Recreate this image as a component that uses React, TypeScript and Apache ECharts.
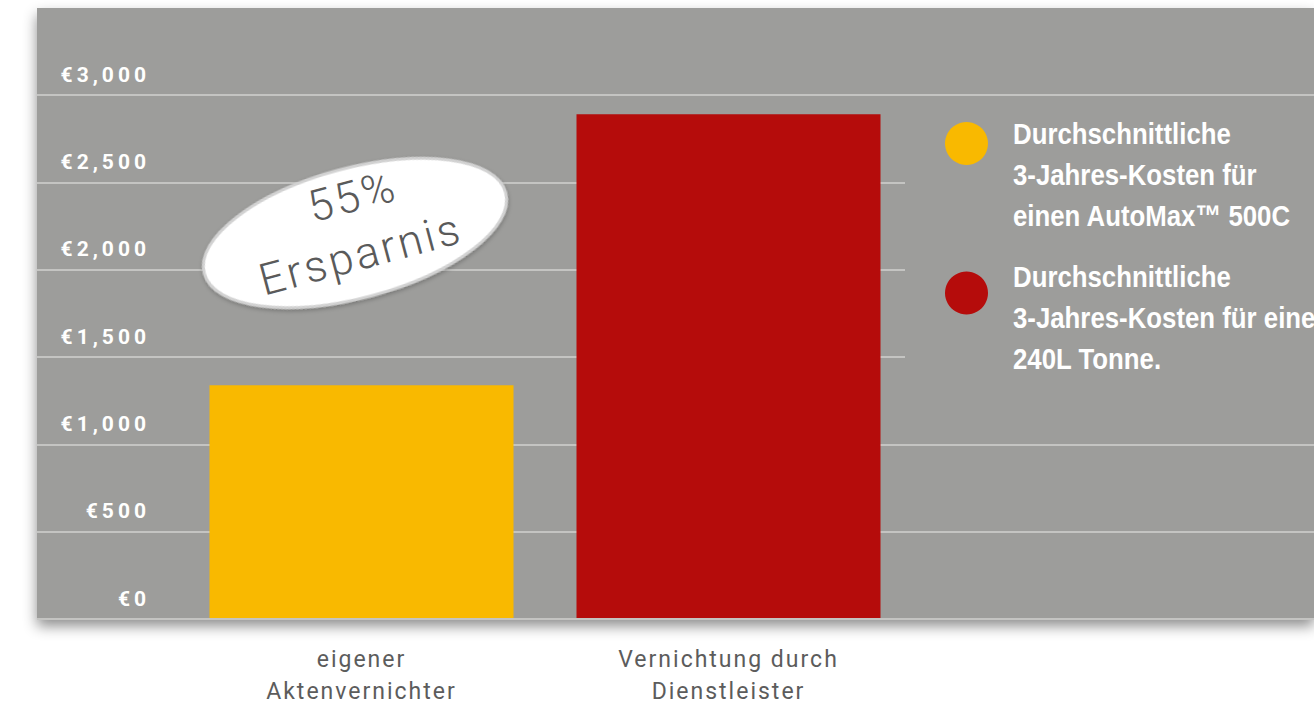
import React, { useEffect, useRef } from "react";
import * as echarts from "echarts";

const categories = ["eigener\nAktenvernichter", "Vernichtung durch\nDienstleister"];
const costValues = [1335, 2890];
const barColors = ["#f9b900", "#b50c0b"];
const yMin = 0;
const yMax = 3000;
const yStep = 500;
const legendLabels = [
  "Durchschnittliche\n3-Jahres-Kosten für\neinen AutoMax™ 500C",
  "Durchschnittliche\n3-Jahres-Kosten für eine\n240L Tonne.",
];
const badgeLines = ["55%", "Ersparnis"];

const BG = "#9d9d9b";

export default function App() {
  const ref = useRef<HTMLDivElement>(null);

  useEffect(() => {
    document.body.style.margin = "0";
    if (!ref.current) return;
    const chart = echarts.init(ref.current, undefined, { renderer: "svg" });

    const legendGraphics: any[] = [];
    legendLabels.forEach((label, i) => {
      legendGraphics.push({
        type: "circle",
        z: 3,
        shape: { cx: 966.5, cy: 143.5 + i * 149.5, r: 21.5 },
        style: { fill: barColors[i] },
      });
      legendGraphics.push({
        type: "text",
        z: 3,
        x: 1013,
        y: 113 + i * 143,
        scaleX: 0.86,
        style: {
          text: label,
          fill: "#ffffff",
          font: 'bold 30px "Liberation Sans", Arial, sans-serif',
          lineHeight: 41,
          align: "left",
          verticalAlign: "top",
        },
      });
    });

    const option: any = {
      animation: false,
      grid: [
        { left: 37, right: 0, top: 95, bottom: 88 },
        { left: 178, width: 734, top: 95, bottom: 88 },
      ],
      xAxis: [
        { gridIndex: 0, type: "value", show: false, min: 0, max: 1 },
        {
          gridIndex: 1,
          type: "category",
          data: categories,
          z: 1,
          axisLine: { show: false },
          axisTick: { show: false },
          axisLabel: {
            color: "#5c5c5c",
            fontSize: 23,
            fontFamily: "Roboto, sans-serif",
            lineHeight: 32,
            margin: 25,
          },
        },
      ],
      yAxis: [
        {
          gridIndex: 0,
          type: "value",
          min: yMin,
          max: yMax,
          interval: yStep,
          z: 1,
          axisLine: { show: false },
          axisTick: { show: false },
          splitLine: { lineStyle: { color: "#c4c4c2", width: 2 } },
          axisLabel: {
            inside: true,
            margin: 113,
            align: "right",
            verticalAlign: "bottom",
            padding: [0, 0, 10, 0],
            color: "#fffffe",
            fontSize: 21,
            fontFamily: "Roboto, sans-serif",
            fontWeight: "bold",
            formatter: (v: number) => "€" + v.toLocaleString("en-US"),
          },
        },
        {
          gridIndex: 1,
          type: "value",
          min: yMin,
          max: yMax,
          interval: yStep,
          show: false,
        },
      ],
      series: [
        {
          type: "bar",
          xAxisIndex: 1,
          yAxisIndex: 1,
          barWidth: 304,
          z: 3,
          data: costValues.map((v, i) => ({ value: v, itemStyle: { color: barColors[i] } })),
        },
      ],
      graphic: [
        {
          type: "rect",
          z: -1,
          shape: { x: 37, y: 8, width: 1277, height: 611 },
          style: {
            fill: BG,
            shadowBlur: 14,
            shadowColor: "rgba(0,0,0,0.45)",
            shadowOffsetY: 7,
          },
        },
        {
          type: "rect",
          z: 2,
          shape: { x: 905, y: 100, width: 409, height: 330 },
          style: { fill: BG },
        },
        ...legendGraphics,
        {
          type: "group",
          x: 355,
          y: 233,
          rotation: (15 * Math.PI) / 180,
          z: 5,
          children: [
            {
              type: "ellipse",
              z: 5,
              shape: { cx: 0, cy: 0, rx: 156, ry: 65 },
              style: {
                fill: "#ffffff",
                stroke: "#d2d2d2",
                lineWidth: 3,
                shadowBlur: 4,
                shadowColor: "rgba(0,0,0,0.25)",
                shadowOffsetY: 2,
              },
            },
            {
              type: "text",
              z: 6,
              x: 7,
              y: -36,
              style: {
                text: badgeLines[0],
                fill: "#5a5a5a",
                font: "300 44px Roboto, sans-serif",
                align: "center",
                verticalAlign: "middle",
              },
            },
            {
              type: "text",
              z: 6,
              x: 0,
              y: 22,
              style: {
                text: badgeLines[1],
                fill: "#5a5a5a",
                font: "300 44px Roboto, sans-serif",
                align: "center",
                verticalAlign: "middle",
              },
            },
          ],
        },
      ],
    };

    chart.setOption(option);
    return () => chart.dispose();
  }, []);

  return (
    <>
      <style>{`
        #chart text[fill="#fffffe"] { letter-spacing: 4px; }
        #chart text[fill="#5c5c5c"] { letter-spacing: 2px; }
        #chart text[fill="#5a5a5a"] { letter-spacing: 3px; }
      `}</style>
      <div id="chart" ref={ref} style={{ width: 1314, height: 707 }} />
    </>
  );
}
